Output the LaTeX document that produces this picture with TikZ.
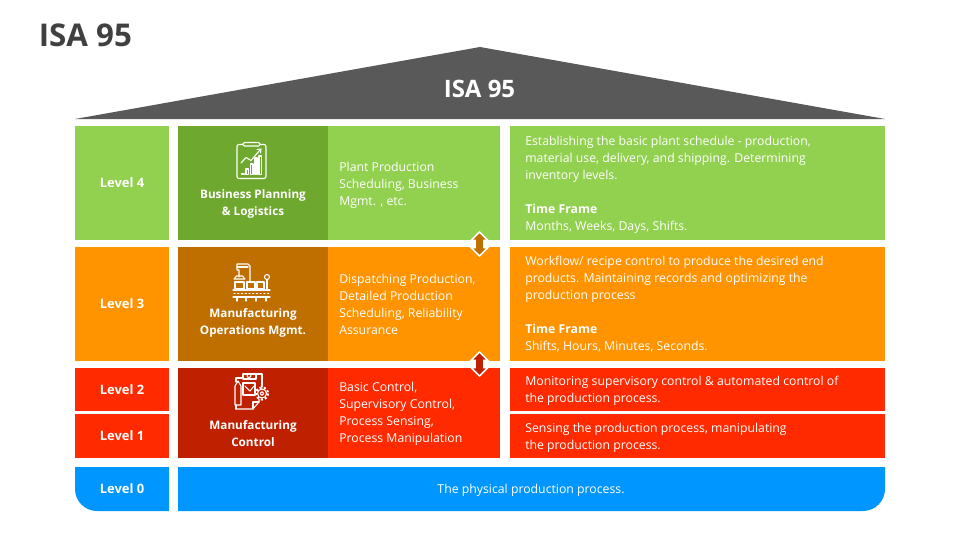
\documentclass[tikz,border=0pt]{standalone}
\usepackage{fontspec}
\setmainfont{Open Sans}
\usetikzlibrary{calc, positioning, shapes, arrows}
\definecolor{greenL}{HTML}{92D050}
\definecolor{greenD}{HTML}{6EA82E}
\definecolor{orangeL}{HTML}{FF9300}
\definecolor{orangeD}{HTML}{BF6E00}
\definecolor{redL}{HTML}{FF2A00}
\definecolor{redD}{HTML}{BF2000}
\definecolor{blueL}{HTML}{0096FF}
\definecolor{roofgray}{HTML}{595959}
\definecolor{titlegray}{HTML}{404040}
\tikzset{
	block/.style={anchor=north west, inner sep=0, outer sep=0},
	levelbox/.style={block, minimum width=70.5pt, text=white, font=\fontsize{9.7}{12.75}\selectfont\bfseries},
	groupbox/.style={block, minimum width=112.5pt},
	listbox/.style={block, minimum width=129pt},
	infobox/.style={block, minimum width=281.25pt},
	grouptext/.style={text=white, inner sep=0, align=center, font=\fontsize{8.8}{12.75}\selectfont\bfseries},
	bodytext/.style={anchor=west, inner sep=0, text=white, align=left, font=\fontsize{9.2}{12.75}\selectfont},
	icon/.style={draw=white, line width=0.8pt, line join=round, line cap=round},
	updown/.style={draw=white, line width=1.3pt, line join=miter}
}
\begin{document}
\begin{tikzpicture}[x=0.75pt, y=-0.75pt]
	\useasboundingbox (0,0) rectangle (960,540);

	% title and roof %
	\node[anchor=west, inner sep=0, text=titlegray, font=\fontsize{23.5}{28}\selectfont\bfseries] (title) at (38.5,35) {ISA 95};
	\fill[roofgray] (75,119) -- (480,47) -- (885,119) -- cycle;
	\node[text=white, inner sep=0, font=\fontsize{18}{21}\selectfont\bfseries] (roof) at (479.5,89) {ISA 95};

	% level nodes %
	\node[levelbox, fill=greenL, minimum height=85.5pt] (l4) at (75,126) {Level 4};
	\node[levelbox, fill=orangeL, minimum height=85.5pt] (l3) at (75,247) {Level 3};
	\node[levelbox, fill=redL, minimum height=32.25pt] (l2) at (75,368) {Level 2};
	\node[levelbox, fill=redL, minimum height=33pt] (l1) at (75,414) {Level 1};

	% group nodes %
	\node[groupbox, fill=greenD, minimum height=85.5pt] (g4) at (178,126) {};
	\node[groupbox, fill=orangeD, minimum height=85.5pt] (g3) at (178,247) {};
	\node[groupbox, fill=redD, minimum height=67.5pt] (g2) at (178,368) {};
	\node[grouptext] (g4t) at (253,203.5) {Business Planning\\\& Logistics};
	\node[grouptext] (g3t) at (253,322.5) {Manufacturing\\Operations Mgmt.};
	\node[grouptext] (g2t) at (253,434) {Manufacturing\\Control};

	% list nodes %
	\node[listbox, fill=greenL, minimum height=85.5pt] (m4) at (328,126) {};
	\node[listbox, fill=orangeL, minimum height=85.5pt] (m3) at (328,247) {};
	\node[listbox, fill=redL, minimum height=67.5pt] (m2) at (328,368) {};
	\node[bodytext] (m4t) at (339,185) {Plant Production\\Scheduling, Business\\Mgmt. , etc.};
	\node[bodytext] (m3t) at (339,304.5) {Dispatching Production,\\Detailed Production\\Scheduling, Reliability\\Assurance};
	\node[bodytext] (m2t) at (339,414) {Basic Control,\\Supervisory Control,\\Process Sensing,\\Process Manipulation};

	% info nodes %
	\node[infobox, fill=greenL, minimum height=85.5pt] (r4) at (510,126) {};
	\node[infobox, fill=orangeL, minimum height=85.5pt] (r3) at (510,247) {};
	\node[infobox, fill=redL, minimum height=32.25pt] (r2) at (510,368) {};
	\node[infobox, fill=redL, minimum height=33pt] (r1) at (510,414) {};
	\node[bodytext] (r4t) at (525,184.5) {Establishing the basic plant schedule - production,\\material use, delivery, and shipping. Determining\\inventory levels.\\[12.75pt]\textbf{Time Frame}\\Months, Weeks, Days, Shifts.};
	\node[bodytext] (r3t) at (525,304.5) {Workflow/ recipe control to produce the desired end\\products. Maintaining records and optimizing the\\production process\\[12.75pt]\textbf{Time Frame}\\Shifts, Hours, Minutes, Seconds.};
	\node[bodytext] (r2t) at (525,390.5) {Monitoring supervisory control \& automated control of\\the production process.};
	\node[bodytext] (r1t) at (525,437.5) {Sensing the production process, manipulating\\the production process.};

	% level 0 %
	\fill[blueL] (75,467) -- (169,467) -- (169,511) -- (97,511) arc[start angle=90, end angle=180, radius=22] -- cycle;
	\fill[blueL] (178,467) -- (885,467) -- (885,489) arc[start angle=0, end angle=90, radius=22] -- (178,511) -- cycle;
	\node[text=white, inner sep=0, font=\fontsize{9.7}{12.75}\selectfont\bfseries] (l0) at (122,489) {Level 0};
	\node[text=white, inner sep=0, font=\fontsize{9.2}{12.75}\selectfont] (r0) at (531,490) {The physical production process.};

	% double arrows %
	\foreach \cy/\cc in {244/orangeD, 364/redD}
		\draw[updown, fill=\cc] (479.5,\cy-12) -- ++(8.5,8.5) -- ++(-4,0) -- ++(0,7) -- ++(4,0) -- ++(-8.5,8.5) -- ++(-8.5,-8.5) -- ++(4,0) -- ++(0,-7) -- ++(-4,0) -- cycle;

	% icon business planning %
	\draw[icon, rounded corners=1.5] (237,144.5) rectangle (266,178.5);
	\draw[icon, fill=greenD, rounded corners=1] (243,142.5) rectangle (260,146);
	\draw[icon] (241,163) -- (246,157.5) -- (251,160.5) -- (260,150);
	\draw[icon] (257,149.5) -- (261,149) -- (260.5,153);
	\draw[icon] (242,173.5) rectangle (244,174.5);
	\draw[icon] (246,169) rectangle (248.5,174.5);
	\draw[icon] (250.5,164) rectangle (253,174.5);
	\draw[icon] (255,158) rectangle (257,174.5);
	\draw[icon] (259,156) rectangle (261.5,174.5);

	% icon manufacturing operations %
	\draw[icon] (239,277) -- (239,270) -- (237,270) -- (237,264) -- (248,264) -- (250,266) -- (250,282);
	\draw[icon] (237,267) -- (248,267);
	\draw[icon] (234,279) -- (245,279) -- (242.5,276) -- (236.5,276) -- cycle;
	\draw[icon] (235,282) rectangle (244,289);
	\draw[icon] (247,282) rectangle (255,289);
	\draw[icon] (257,282) rectangle (264,289);
	\draw[icon] (267,289) -- (267,279.5);
	\draw[icon] (267,277) circle[radius=2.5];
	\draw[icon] (233,290) -- (270,290);
	\draw[icon, dotted] (234,293.5) -- (269,293.5);
	\draw[icon] (233,297) -- (270,297);
	\foreach \px in {237,246,256,266}
		\draw[icon] (\px,297) -- (\px,301);

	% icon manufacturing control %
	\draw[icon] (236,409) -- (253,409) -- (259,402) -- (259,399);
	\draw[icon] (253,409) -- (253,402) -- (259,402);
	\draw[icon] (236,378) -- (243,378);
	\draw[icon] (243,374) -- (262,374) -- (262,387);
	\draw[icon] (243,374) -- (243,379) -- (256,379) -- (256,374);
	\draw[icon] (249,375.5) circle[radius=2];
	\draw[icon] (236,378) -- (236,382);
	\draw[icon] (236,405) -- (236,409);
	\draw[icon] (235,386) -- (238,381) -- (241,386) -- (241,405) -- (235,405) -- cycle;
	\draw[icon] (243,383) rectangle (255,395);
	\draw[icon] (245,386) -- (250,391) -- (254,386);
	\draw[icon, dash pattern=on 1.6pt off 1.6pt, line cap=butt, line width=1.6pt] (262,393.5) circle[radius=6];
	\draw[icon] (262,393.5) circle[radius=4.5];
	\draw[icon] (262,393.5) circle[radius=1.8];
\end{tikzpicture}
\end{document}
